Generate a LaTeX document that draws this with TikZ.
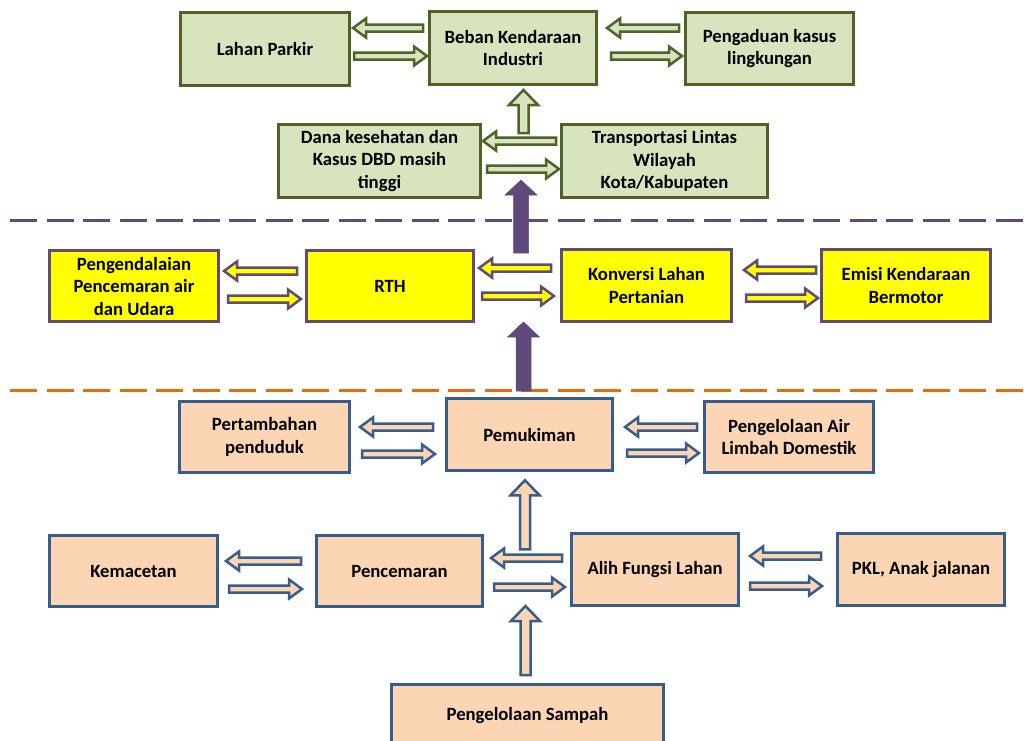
\documentclass[tikz,border=0pt]{standalone}
\usepackage{fontspec}
\setmainfont{Carlito}
\usetikzlibrary{calc}
\definecolor{gfill}{HTML}{D7E4BD}
\definecolor{gline}{HTML}{4F6228}
\definecolor{yfill}{HTML}{FFFF00}
\definecolor{pline}{HTML}{604A7B}
\definecolor{ofill}{HTML}{FCD5B5}
\definecolor{bline}{HTML}{385D8A}
\definecolor{orng}{HTML}{E46C0A}
\begin{document}
\begin{tikzpicture}[x=1pt,y=-1pt,
  box/.style={draw, line width=3pt, align=center, inner sep=2pt,
    font=\fontsize{18.7}{22.5}\selectfont\bfseries, text=black},
  gbox/.style={box, fill=gfill, draw=gline},
  ybox/.style={box, fill=yfill, draw=pline},
  obox/.style={box, fill=ofill, draw=bline},
  barr/.style n args={3}{line width=2.5pt, line join=miter, to path={
    let \p1=(\tikztostart), \p2=(\tikztotarget),
        \n1={atan2(\y2-\y1,\x2-\x1)} in
    ($(\tikztostart)+(\n1+90:#1)$) --
    ($(\tikztotarget)!#3!(\tikztostart)+(\n1+90:#1)$) --
    ($(\tikztotarget)!#3!(\tikztostart)+(\n1+90:#2)$) --
    (\tikztotarget) --
    ($(\tikztotarget)!#3!(\tikztostart)+(\n1-90:#2)$) --
    ($(\tikztotarget)!#3!(\tikztostart)+(\n1-90:#1)$) --
    ($(\tikztostart)+(\n1-90:#1)$) -- cycle}},
  harr/.style={barr={3.5pt}{9.5pt}{13pt}},
  varr/.style={barr={5pt}{14.5pt}{15pt}},
  sarr/.style={barr={7.5pt}{16pt}{15pt}, fill=pline, draw=pline, line width=0.5pt},
  garr/.style={fill=gfill, draw=gline},
  yarr/.style={fill=yfill, draw=pline},
  oarr/.style={fill=ofill, draw=bline},
  sepline/.style={line width=3pt, dash pattern=on 27pt off 9.5pt}
]
\useasboundingbox (0,0) rectangle (1024,740);
\fill[white] (0,0) rectangle (1024,740);

% separators
\draw[sepline, pline] (10,220) -- (1024,220);
\draw[sepline, orng] (10,390) -- (1024,390);

% row 1
\node[gbox, minimum width=169pt, minimum height=73pt] (lp) at (265,49) {Lahan Parkir};
\node[gbox, minimum width=167pt, minimum height=73pt] (bk) at (513,48) {Beban Kendaraan\\Industri};
\node[gbox, minimum width=168pt, minimum height=72pt] (pk) at (769.5,48.5) {Pengaduan kasus\\lingkungan};
% row 2
\node[gbox, minimum width=202pt, minimum height=73pt] (dk) at (379.5,161) {Dana kesehatan dan\\Kasus DBD masih\\tinggi};
\node[gbox, minimum width=206pt, minimum height=73pt] (tl) at (664.5,161) {Transportasi Lintas\\Wilayah\\Kota/Kabupaten};
% row 3
\node[ybox, minimum width=169pt, minimum height=71pt] (pe) at (134,286) {Pengendalaian\\Pencemaran air\\dan Udara};
\node[ybox, minimum width=167pt, minimum height=71pt] (rth) at (390,286) {RTH};
\node[ybox, minimum width=170pt, minimum height=72pt] (kl) at (646.5,285.5) {Konversi Lahan\\Pertanian};
\node[ybox, minimum width=169pt, minimum height=72pt] (em) at (906,285.5) {Emisi Kendaraan\\Bermotor};
% row 4
\node[obox, minimum width=170pt, minimum height=71pt] (pp) at (264.5,437) {Pertambahan\\penduduk};
\node[obox, minimum width=166pt, minimum height=72pt] (pm) at (529.5,434.5) {Pemukiman};
\node[obox, minimum width=169pt, minimum height=71pt] (pa) at (789,437) {Pengelolaan Air\\Limbah Domestik};
% row 5
\node[obox, minimum width=168pt, minimum height=71pt] (km) at (133.5,571) {Kemacetan};
\node[obox, minimum width=166pt, minimum height=71pt] (pc) at (399.5,571) {Pencemaran};
\node[obox, minimum width=167pt, minimum height=72pt] (af) at (655,569.5) {Alih Fungsi Lahan};
\node[obox, minimum width=167pt, minimum height=72pt] (pkl) at (921,569.5) {PKL, Anak jalanan};
% row 6
\node[obox, minimum width=272pt, minimum height=63pt] (ps) at (527.5,716) {Pengelolaan Sampah};

% row 1 arrows
\draw[harr, garr] ($(bk.west)+(-5,-20)$) to ($(lp.east)+(2,-21)$);
\draw[harr, garr] ($(lp.east)+(3,7)$) to ($(bk.west)+(-1,8)$);
\draw[harr, garr] ($(pk.west)+(-5,-20.5)$) to ($(bk.east)+(9,-20)$);
\draw[harr, garr] ($(bk.east)+(13,8)$) to ($(pk.west)+(-2,7.5)$);
% row 2 arrows
\draw[harr, garr] ($(tl.west)+(-4,-20)$) to ($(dk.east)+(1,-20)$);
\draw[harr, garr] ($(dk.east)+(5,8)$) to ($(tl.west)+(-1,8)$);
\draw[varr, garr] ($(bk.south)+(10.5,47)$) to ($(bk.south)+(10.5,4)$);
% purple arrows
\draw[sarr] ($(rth.north east)!0.5!(kl.north west)+(3.5,4.5)$) to ($(dk.east)!0.5!(tl.west)+(0,19)$);
\draw[sarr] ($(pm.north)+(-6,-6)$) to ($(pm.north)+(-6,-75)$);
% row 3 arrows
\draw[harr, yarr] ($(rth.west)+(-8,-15)$) to ($(pe.east)+(4,-15)$);
\draw[harr, yarr] ($(pe.east)+(8,13)$) to ($(rth.west)+(-4,13)$);
\draw[harr, yarr] ($(kl.west)+(-9,-17.5)$) to ($(rth.east)+(4,-18)$);
\draw[harr, yarr] ($(rth.east)+(7,10)$) to ($(kl.west)+(-6,10.5)$);
\draw[harr, yarr] ($(em.west)+(-4,-15.5)$) to ($(kl.east)+(11,-15.5)$);
\draw[harr, yarr] ($(kl.east)+(13,12.5)$) to ($(em.west)+(-2,12.5)$);
% row 4 arrows
\draw[harr, oarr] ($(pm.west)+(-12,-7.5)$) to ($(pp.east)+(9,-10)$);
\draw[harr, oarr] ($(pp.east)+(11,17)$) to ($(pm.west)+(-10,19.5)$);
\draw[harr, oarr] ($(pa.west)+(-6,-10)$) to ($(pm.east)+(11,-7.5)$);
\draw[harr, oarr] ($(pm.east)+(13,18.5)$) to ($(pa.west)+(-4,16)$);
% row 5 arrows
\draw[harr, oarr] ($(pc.west)+(-14,-10)$) to ($(km.east)+(7,-10)$);
\draw[harr, oarr] ($(km.east)+(10,18)$) to ($(pc.west)+(-13,18)$);
\draw[harr, oarr] ($(af.west)+(-8,-11.5)$) to ($(pc.east)+(7,-13)$);
\draw[harr, oarr] ($(pc.east)+(10,16)$) to ($(af.west)+(-5,17.5)$);
\draw[varr, oarr] ($(pc.east)!0.5!(af.west)+(-2,-21)$) to ($(pc.east)!0.5!(af.west)+(-2,-90)$);
\draw[varr, oarr] ($(ps.north)+(-2,-8)$) to ($(ps.north)+(-2,-77)$);
\draw[harr, oarr] ($(pkl.west)+(-15,-13.5)$) to ($(af.east)+(10,-13.5)$);
\draw[harr, oarr] ($(af.east)+(10,16.5)$) to ($(pkl.west)+(-14,16.5)$);
\end{tikzpicture}
\end{document}
